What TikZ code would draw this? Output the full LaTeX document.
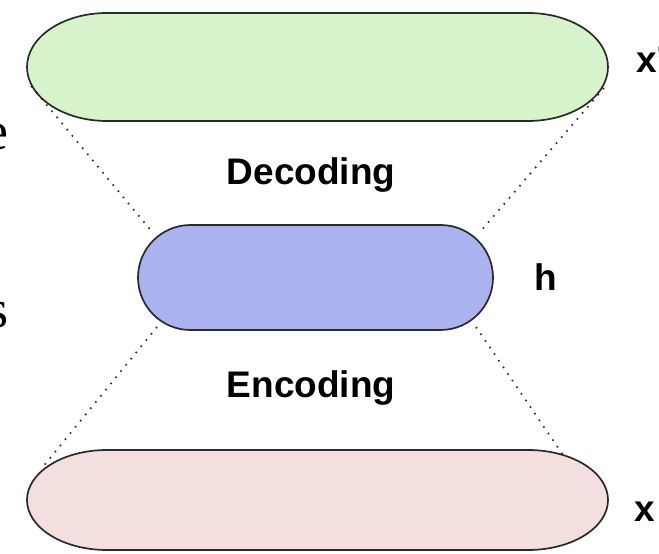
\documentclass[tikz,border=0pt]{standalone}
\usepackage{fontspec}
\setmainfont{Liberation Serif}
\setsansfont{Liberation Sans}
\usetikzlibrary{shapes.misc}
\definecolor{greenfill}{HTML}{D7F3CC}
\definecolor{bluefill}{HTML}{AAB3F0}
\definecolor{pinkfill}{HTML}{F4DFDF}
\definecolor{edge}{HTML}{2A2A2A}
\tikzset{
  blob/.style={draw=edge, line width=1.7pt},
  dotline/.style={draw=edge, line width=1.7pt, dash pattern=on 1.6pt off 6.4pt},
  lbl/.style={font=\sffamily\bfseries\fontsize{37}{40}\selectfont, inner sep=0pt, anchor=base},
  frag/.style={font=\rmfamily\fontsize{54}{56}\selectfont, inner sep=0pt, anchor=base east}
}
\begin{document}
\begin{tikzpicture}[x=1pt,y=1pt]
\useasboundingbox (0,0) rectangle (659,554);
% top (decoded) shape
\path[blob, fill=greenfill] (107,541) -- (528,541)
  arc[start angle=90, end angle=-90, x radius=80, y radius=54]
  -- (107,433)
  arc[start angle=270, end angle=90, x radius=80, y radius=54] -- cycle;
% bottom (input) shape
\path[blob, fill=pinkfill] (107,104) -- (528,104)
  arc[start angle=90, end angle=-90, x radius=80, y radius=50]
  -- (107,4)
  arc[start angle=270, end angle=90, x radius=80, y radius=50] -- cycle;
% hidden layer
\node[blob, fill=bluefill, rounded rectangle, minimum width=355pt, minimum height=105pt, inner sep=0pt] (hid) at (315.5,276.5) {};
% connector ends
\coordinate (tl1) at (31,468);
\coordinate (tl2) at (153,321);
\coordinate (tr1) at (604,466);
\coordinate (tr2) at (480,322);
\coordinate (bl1) at (157,227);
\coordinate (bl2) at (42,86);
\coordinate (br1) at (476,227);
\coordinate (br2) at (563,99);
\draw[dotline] (tl1) -- (tl2);
\draw[dotline] (tr1) -- (tr2);
\draw[dotline] (bl1) -- (bl2);
\draw[dotline] (br1) -- (br2);
% labels
\node[lbl] (dec) at (311,369) {Decoding};
\node[lbl] (enc) at (311,156) {Encoding};
\node[lbl, anchor=base west] (h) at (534,263) {h};
\node[lbl, anchor=base west] (xp) at (636,481) {x'};
\node[lbl, anchor=base west] (x) at (634,32) {x};
% clipped fragments at left margin
\node[frag] (fe) at (9,404) {e};
\node[frag] (fs) at (9,226) {s};
\end{tikzpicture}
\end{document}
